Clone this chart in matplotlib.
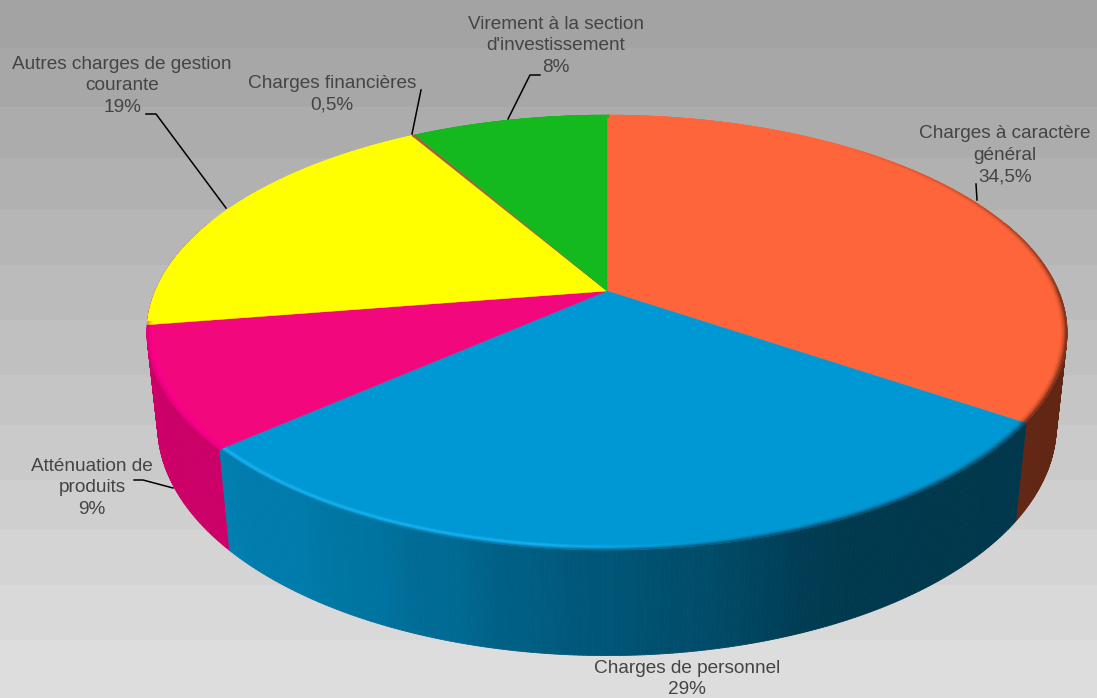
import numpy as np
import matplotlib
matplotlib.use("Agg")
import matplotlib.pyplot as plt
from matplotlib.collections import PolyCollection

plt.rcParams["font.family"] = ["Liberation Sans", "DejaVu Sans"]

# slices, clockwise from 12 o'clock
slice_values = [34.5, 29, 9, 19.1, 0.15, 8.25]
top_colors = ["#FF653A", "#0098D4", "#F3077C", "#FFFF00", "#B0583C", "#14B91E"]
wall_colors = ["#622614", "#00405A", "#CC0068", "#CC0068", "#703020", "#0E8014"]
glow_colors = ["#FF653A", "#1CBCFF", "#FF0090", "#FFFF00", "#B0583C", "#14B91E"]

labels = [
    "Charges à caractère\ngénéral\n34,5%",
    "Charges de personnel\n29%",
    "Atténuation de\nproduits\n9%",
    "Autres charges de gestion\ncourante\n19%",
    "Charges financières\n0,5%",
    "Virement à la section\nd'investissement\n8%",
]
label_x = [1005, 687, 92, 122, 332, 556]
label_y = [155, 679, 488, 86, 94, 46]
leaders = [
    ([976, 977], [184, 200]),
    ([], []),
    ([134, 143, 173], [480, 480, 488]),
    ([146, 156, 226], [114, 114, 208]),
    ([421, 412], [90, 134]),
    ([540, 530, 508], [75, 75, 119]),
]

# background bands
band_edges = [0, 48, 107, 158, 210, 265, 320, 375, 425, 480, 530, 585, 640, 698]
band_grays = [163, 167, 172, 177, 182, 187, 192, 197, 202, 207, 212, 217, 221]

# shading of the blue wall along the screen x
blue_x = [220, 260, 300, 340, 380, 420, 460, 500, 540, 580, 620, 660, 700, 740, 790, 850, 1016]
blue_g = [128, 124, 124, 118, 116, 108, 106, 96, 94, 87, 85, 79, 77, 71, 62, 57, 55]
blue_b = [178, 172, 172, 163, 161, 150, 148, 133, 131, 121, 118, 110, 107, 98, 86, 77, 76]

# perspective of the disc
CX, CY = 607, 291
A, B, K = 209.6, 451.6, 0.1908
DEPTH, SHRINK = 93.8, 0.023


def project(theta, r=1.0, lower=False):
    u = r * np.sin(theta)
    v = r * np.cos(theta)
    den = 1 + K * v + (SHRINK if lower else 0)
    off = DEPTH if lower else 0
    return CX + B * u / den, CY + (off - A * v) / den


def mix(c1, c2, w):
    return tuple(np.array(c1) * (1 - w) + np.array(c2) * w)


fig = plt.figure(figsize=(10.97, 6.98), dpi=100)
ax = fig.add_axes([0, 0, 1, 1])
ax.set_xlim(0, 1097)
ax.set_ylim(698, 0)
ax.axis("off")

grays = np.array(band_grays)[:, None] / 255
ax.pcolormesh([0, 1097], band_edges, grays, cmap="gray", vmin=0, vmax=1, zorder=0)

edges = np.radians(np.cumsum([0] + slice_values) * 3.6)
rgb = lambda c: matplotlib.colors.to_rgb(c)

# walls, back to front so the nearest quads end up on top
step = np.radians(0.5)
quads, colors = [], []
order = sorted(np.arange(np.radians(70), np.radians(290), step), key=lambda t: -abs(t - np.pi))
for t in order:
    idx = min(np.searchsorted(edges, t + step / 2) - 1, len(slice_values) - 1)
    x0, y0 = project(t)
    x1, y1 = project(t + step)
    x2, y2 = project(t + step, lower=True)
    x3, y3 = project(t, lower=True)
    quads.append([(x0, y0), (x1, y1), (x2, y2), (x3, y3)])
    if idx == 1:
        mx = (x2 + x3) / 2
        colors.append((0, np.interp(mx, blue_x, blue_g) / 255, np.interp(mx, blue_x, blue_b) / 255))
    else:
        colors.append(rgb(wall_colors[idx]))
ax.add_collection(PolyCollection(quads, facecolors=colors, edgecolors=colors, linewidths=0.6, zorder=2))

# top of the pie
for i in range(len(slice_values)):
    th = np.linspace(edges[i], edges[i + 1], max(int(np.degrees(edges[i + 1] - edges[i])) * 2, 4))
    px, py = project(th)
    pts = np.column_stack([np.r_[CX, px], np.r_[CY, py]])
    ax.fill(pts[:, 0], pts[:, 1], color=top_colors[i], lw=0.3, zorder=3)

# soft bevel along the edge: glow on the front left, dark on the right
layers = np.linspace(0.984, 1.0, 7)
quads, colors = [], []
for i in range(len(slice_values)):
    for t in np.arange(edges[i], edges[i + 1] - 1e-6, step):
        deg = np.degrees(t)
        x_mid = project(t)[0]
        glow = np.clip((760 - x_mid) / 220, 0, 1) if 125 < deg < 262 else 0
        if deg < 90:
            dark = np.clip((deg - 35) / 55, 0, 1) * 0.9
        elif deg < 262:
            dark = 0.5 + 0.5 * np.clip((x_mid - 550) / 250, 0, 1)
        else:
            dark = 0.0
        for j in range(len(layers) - 1):
            tt = (j + 0.5) / (len(layers) - 1)
            c = mix(rgb(top_colors[i]), rgb(glow_colors[i]), glow * np.sin(np.pi * tt))
            c = mix(c, rgb(wall_colors[i]), dark * tt ** 2)
            a = project(t, layers[j])
            b = project(t + step, layers[j])
            d = project(t + step, layers[j + 1])
            e = project(t, layers[j + 1])
            quads.append([a, b, d, e])
            colors.append(c)
ax.add_collection(PolyCollection(quads, facecolors=colors, edgecolors=colors, linewidths=0.3, zorder=4))

# labels and leader lines
for text, lx, ly, (xs, ys) in zip(labels, label_x, label_y, leaders):
    ax.text(lx, ly, text, ha="center", va="center", ma="center", fontsize=13.7,
            color="#444444", linespacing=1.36, zorder=6)
    if xs:
        ax.plot(xs, ys, color="black", lw=1.1, zorder=5)

fig.savefig("out.png", dpi=100)
plt.close(fig)
